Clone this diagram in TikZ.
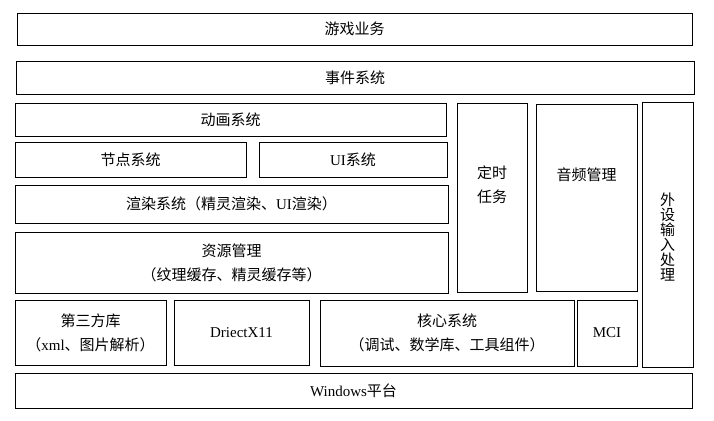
\documentclass[tikz,border=0pt]{standalone}
\usepackage{fontspec}
\setmainfont{Liberation Serif}
\newfontfamily\zhfont{Noto Sans CJK SC}
\newcommand{\zh}[1]{{\zhfont #1}}

\tikzset{
  box/.style={draw, line width=0.8pt, inner sep=0pt},
  txt/.style={align=center, inner sep=0pt, font=\fontsize{15}{24}\selectfont},
}

% box from (x1,y1) to (x2,y2), text in the middle
\newcommand{\layerbox}[7][]{%
  \path (#3,#4) -- coordinate (#2-c) (#5,#6);
  \node[box, minimum width={(#5-#3)*1pt}, minimum height={(#6-#4)*1pt}] (#2) at (#2-c) {};
  \node[txt, #1] (#2-t) at (#2.center) {#7};}

\begin{document}
\begin{tikzpicture}[x=1pt, y=-1pt]
  \useasboundingbox (0,0) rectangle (714,420);

  \layerbox{game}{17}{13}{692}{45}{\zh{游戏业务}}
  \layerbox{event}{16}{61}{694}{94}{\zh{事件系统}}
  \layerbox{anim}{15}{103}{446}{136}{\zh{动画系统}}
  \layerbox[yshift=12.75pt]{timer}{457}{103}{527}{292}{\zh{定时}\\\zh{任务}}
  \layerbox[yshift=22.5pt]{audio}{536}{104}{637}{291}{\zh{音频管理}}
  \layerbox[yshift=-2.5pt, font=\fontsize{15}{15}\selectfont]{input}{642}{102}{693}{367}%
    {\zh{外}\\\zh{设}\\\zh{输}\\\zh{入}\\\zh{处}\\\zh{理}}
  \layerbox{scene}{15}{142}{246}{177}{\zh{节点系统}}
  \layerbox{ui}{259}{142}{447}{177}{UI\zh{系统}}
  \layerbox{render}{15}{185}{448}{223}{\zh{渲染系统（精灵渲染、}UI\zh{渲染）}}
  \layerbox{res}{15}{232}{448}{293}{\zh{资源管理}\\\zh{（纹理缓存、精灵缓存等）}}
  \layerbox{third}{15}{300}{166}{365}{\zh{第三方库}\\\zh{（}xml\zh{、图片解析）}}
  \layerbox{dx}{174}{300}{309}{365}{DriectX11}
  \layerbox{core}{320}{300}{574}{366}{\zh{核心系统}\\\zh{（调试、数学库、工具组件）}}
  \layerbox{mci}{577}{300}{637}{366}{MCI}
  \layerbox{win}{15}{373}{692}{408}{Windows\zh{平台}}
\end{tikzpicture}
\end{document}
